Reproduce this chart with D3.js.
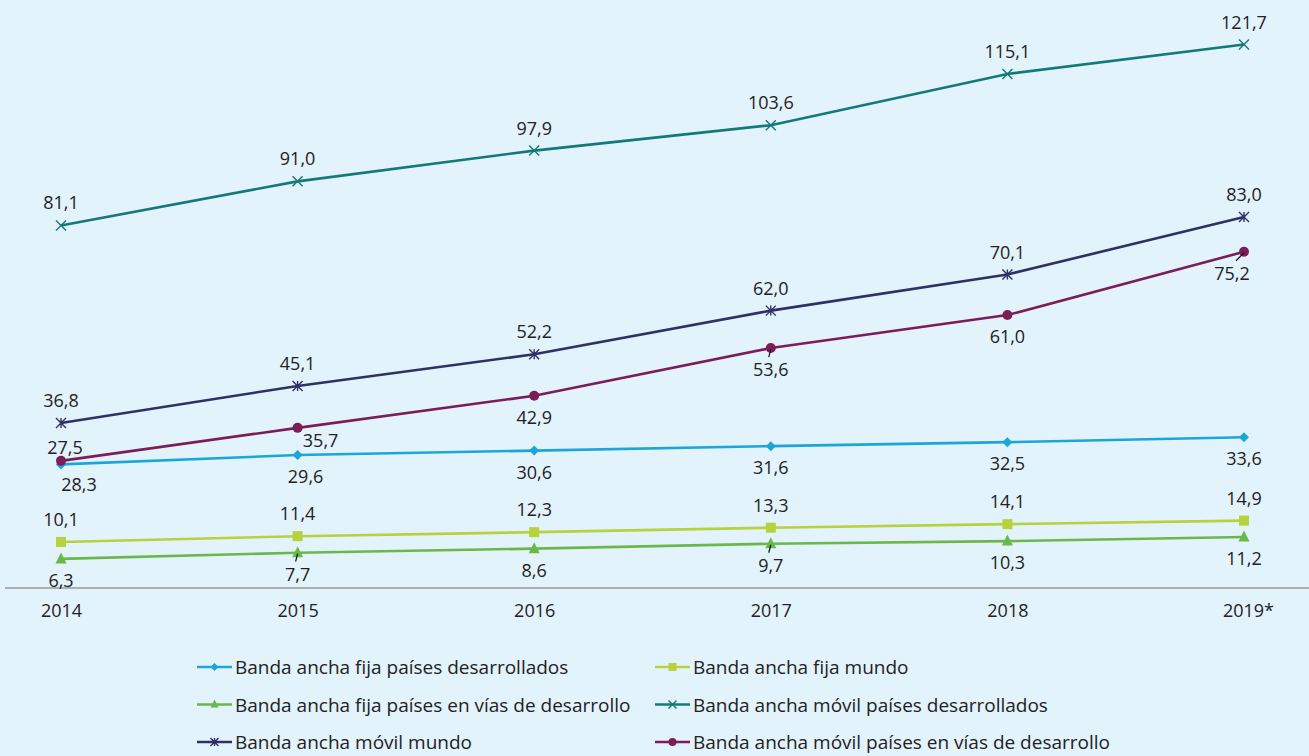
<!DOCTYPE html>
<html>
<head>
<meta charset="utf-8">
<script src="https://cdn.jsdelivr.net/npm/d3@7"></script>
<style>
  html, body { margin: 0; padding: 0; background: #e3f3fc; }
  svg text { font-family: "Open Sans", Roboto, sans-serif; fill: #222; }
</style>
</head>
<body>
<svg id="chart" width="1309" height="756"></svg>
<script>
// years on the x axis
const years = ["2014", "2015", "2016", "2017", "2018", "2019*"];

// values per series (per 100 inhabitants)
const fijaDesarrollados = [27.5, 29.6, 30.6, 31.6, 32.5, 33.6];
const fijaMundo = [10.1, 11.4, 12.3, 13.3, 14.1, 14.9];
const fijaEnDesarrollo = [6.3, 7.7, 8.6, 9.7, 10.3, 11.2];
const movilDesarrollados = [81.1, 91.0, 97.9, 103.6, 115.1, 121.7];
const movilMundo = [36.8, 45.1, 52.2, 62.0, 70.1, 83.0];
const movilEnDesarrollo = [28.3, 35.7, 42.9, 53.6, 61.0, 75.2];

const seriesNames = [
  "Banda ancha fija países desarrollados",
  "Banda ancha fija mundo",
  "Banda ancha fija países en vías de desarrollo",
  "Banda ancha móvil países desarrollados",
  "Banda ancha móvil mundo",
  "Banda ancha móvil países en vías de desarrollo",
];

const series = [
  { name: seriesNames[0], values: fijaDesarrollados, color: "#1ba6d9", marker: "diamond", pos: "below" },
  { name: seriesNames[1], values: fijaMundo, color: "#b6d23c", marker: "square", pos: "above" },
  { name: seriesNames[2], values: fijaEnDesarrollo, color: "#6bb84a", marker: "triangle", pos: "below" },
  { name: seriesNames[3], values: movilDesarrollados, color: "#137a78", marker: "x", pos: "above" },
  { name: seriesNames[4], values: movilMundo, color: "#2e3066", marker: "star", pos: "above" },
  { name: seriesNames[5], values: movilEnDesarrollo, color: "#7b1e58", marker: "circle", pos: "below" },
];

// a few labels nudged off their default spot (series index, year index, dx, dy)
const labelNudges = [
  [0, 0, 4, -38],
  [0, 1, 8, 0],
  [5, 0, 18, 2],
  [5, 1, 23, -9],
  [5, 5, -12, 0],
];

const svg = d3.select("#chart");

const x = d3.scalePoint().domain(years).range([61, 1244]);
const y = d3.scaleLinear().domain([0, 121.7]).range([587, 44.5]);

// baseline
svg.append("line")
  .attr("x1", 5).attr("x2", 1309)
  .attr("y1", 588).attr("y2", 588)
  .attr("stroke", "#9a9a9a").attr("stroke-width", 1.5);

// year labels
const xAxis = d3.axisBottom(x).tickSize(0).tickPadding(0);
const gx = svg.append("g").attr("transform", "translate(0,604)").call(xAxis);
gx.select(".domain").remove();
gx.selectAll("text")
  .style("font-size", "18px")
  .attr("dy", "0.71em")
  .attr("dx", (d) => (d === "2019*" ? 4 : 0));

function drawMarker(g, type, color, size) {
  const s = size;
  const h = s / 2;
  if (type === "diamond") {
    g.append("path").attr("d", `M0,${-h}L${h},0L0,${h}L${-h},0Z`).attr("fill", color);
  } else if (type === "square") {
    g.append("rect").attr("x", -h).attr("y", -h).attr("width", s).attr("height", s).attr("fill", color);
  } else if (type === "triangle") {
    g.append("path").attr("d", `M0,${-h - 1}L${h},${h - 1}L${-h},${h - 1}Z`).attr("fill", color);
  } else if (type === "circle") {
    g.append("circle").attr("r", h).attr("fill", color);
  } else if (type === "x") {
    g.append("path").attr("d", `M${-h},${-h}L${h},${h}M${-h},${h}L${h},${-h}`)
      .attr("stroke", color).attr("stroke-width", 1.4);
  } else if (type === "star") {
    g.append("path").attr("d", `M${-h},${-h}L${h},${h}M${-h},${h}L${h},${-h}M0,${-h}L0,${h}`)
      .attr("stroke", color).attr("stroke-width", 1.4);
  }
}

const markerSize = { diamond: 10, square: 10, triangle: 11, circle: 10, x: 10, star: 10 };

const line = d3.line().x((d, i) => x(years[i])).y((d) => y(d));

// draw in an order where the mobile lines sit over the fixed ones
const drawOrder = [1, 2, 0, 3, 4, 5];
drawOrder.forEach(function (si) {
  const s = series[si];
  svg.append("path")
    .datum(s.values)
    .attr("d", line)
    .attr("fill", "none")
    .attr("stroke", s.color)
    .attr("stroke-width", 2.6);

  s.values.forEach(function (v, i) {
    const g = svg.append("g").attr("transform", `translate(${x(years[i])},${y(v)})`);
    drawMarker(g, s.marker, s.color, markerSize[s.marker]);
  });
});

// leader lines (small strokes toward displaced labels)
const leaders = [[2, 1], [2, 3], [5, 3], [5, 5]];
leaders.forEach(function ([si, i]) {
  const cx = x(years[i]);
  const cy = y(series[si].values[i]);
  const dx = si === 5 && i === 5 ? -8 : -2;
  svg.append("line")
    .attr("x1", cx).attr("y1", cy + 1)
    .attr("x2", cx + dx).attr("y2", cy + 9)
    .attr("stroke", "#111").attr("stroke-width", 1.2);
});

// value labels
const fmt = (v) => v.toFixed(1).replace(".", ",");
series.forEach(function (s, si) {
  s.values.forEach(function (v, i) {
    let dx = 0;
    let dy = s.pos === "above" ? -23 : 21;
    const n = labelNudges.find((d) => d[0] === si && d[1] === i);
    if (n) { dx += n[2]; dy += n[3]; }
    svg.append("text")
      .attr("x", x(years[i]) + dx)
      .attr("y", y(v) + dy)
      .attr("text-anchor", "middle")
      .attr("dominant-baseline", "central")
      .style("font-size", "18px")
      .text(fmt(v));
  });
});

// legend
const legend = svg.append("g");
series.forEach(function (s, k) {
  const col = k % 2;
  const row = Math.floor(k / 2);
  const lx = col === 0 ? 197 : 655;
  const ly = 667 + row * 37.5;
  const g = legend.append("g").attr("transform", `translate(${lx},${ly})`);
  g.append("line").attr("x1", 0).attr("x2", 35).attr("y1", 0).attr("y2", 0)
    .attr("stroke", s.color).attr("stroke-width", 2.4);
  const m = g.append("g").attr("transform", "translate(17.5,0)");
  drawMarker(m, s.marker, s.color, 8);
  g.append("text")
    .attr("x", 38)
    .attr("y", 0)
    .attr("dominant-baseline", "central")
    .style("font-size", "19px")
    .text(s.name);
});
</script>
</body>
</html>
